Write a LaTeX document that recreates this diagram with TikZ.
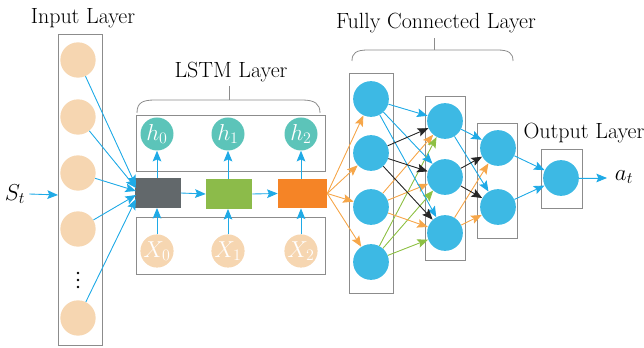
\documentclass[tikz,border=0pt]{standalone}
\usetikzlibrary{arrows.meta}
\definecolor{tan}{HTML}{F6D6B1}
\definecolor{teal}{HTML}{5CC4B9}
\definecolor{cgray}{HTML}{62686B}
\definecolor{cgreen}{HTML}{8CBB4A}
\definecolor{corange}{HTML}{F58426}
\definecolor{cblue}{HTML}{3DB9E4}
\definecolor{lblue}{HTML}{1FAAE6}
\definecolor{lorange}{HTML}{F6A649}
\definecolor{lgreen}{HTML}{8DC043}
\definecolor{boxc}{HTML}{8C8C8C}
\tikzset{
  title/.style={font=\fontsize{16.5}{18}\selectfont, inner sep=0pt},
  grpbox/.style={draw=boxc, line width=0.6pt},
  incirc/.style={circle, fill=tan, minimum size=26.5pt, inner sep=0pt},
  hcirc/.style={circle, fill=teal, minimum size=24.75pt, inner sep=0pt, text=white, font=\fontsize{17}{18}\selectfont},
  xcirc/.style={circle, fill=tan, minimum size=24.75pt, inner sep=0pt, text=white, font=\fontsize{17}{18}\selectfont},
  fccirc/.style={circle, fill=cblue, minimum size=26.8pt, inner sep=0pt},
  cell/.style={rectangle, minimum height=22pt, inner sep=0pt},
  conn/.style={line width=0.65pt, -{Stealth[length=8pt,width=6.5pt,inset=1.5pt]}},
  cb/.style={conn, draw=lblue, fill=lblue},
  co/.style={conn, draw=lorange, fill=lorange},
  cg/.style={conn, draw=lgreen, fill=lgreen},
  ck/.style={conn, draw=black!85, fill=black!85},
}
\begin{document}
\begin{tikzpicture}[x=0.75pt, y=-0.75pt]
\useasboundingbox (0,0) rectangle (644,348);

% ---------- titles ----------
\node[title] (tin) at (83,18) {Input Layer};
\node[title] (tlstm) at (231,72) {LSTM Layer};
\node[title] (tfc) at (436,23) {Fully Connected Layer};
\node[title] (tout) at (584,133) {Output Layer};

% ---------- brackets ----------
\draw[boxc, line width=0.6pt] (137,113) .. controls (137,103) and (142,100) .. (155,100) -- (302,100) .. controls (315,100) and (320,104) .. (320,113);
\draw[boxc, line width=0.6pt] (229,100) -- (229,86);
\draw[boxc, line width=0.6pt] (352,61) .. controls (352,53) and (356,50) .. (368,50) -- (497,50) .. controls (509,50) and (513,53) .. (513,61);
\draw[boxc, line width=0.6pt] (434,50) -- (434,38);

% ---------- group boxes ----------
\draw[grpbox] (58,34) rectangle (102,345);
\draw[grpbox] (136,115) rectangle (325,171);
\draw[grpbox] (136,217) rectangle (325,274);
\draw[grpbox] (349,73) rectangle (393,293);
\draw[grpbox] (425,96) rectangle (465,260);
\draw[grpbox] (477,123) rectangle (517,238);
\draw[grpbox] (541,149) rectangle (582,208);

% ---------- input layer ----------
\node[incirc] (i1) at (78,60) {};
\node[incirc] (i2) at (78,117) {};
\node[incirc] (i3) at (78,173) {};
\node[incirc] (i4) at (78,229) {};
\node[incirc] (i5) at (78,318) {};
\foreach \yy in {273,280,287} \fill (78,\yy) circle (1.4);

\node[font=\fontsize{18}{19}\selectfont, inner sep=0pt] (st) at (15,194) {$S_t$};
\coordinate (stin) at (58,195);
\draw[cb] (st.east) ++(4,0) coordinate (stout) (stout) -- (stin);

% ---------- LSTM cells ----------
\node[cell, fill=cgray, minimum width=34pt] (c0) at (158,193) {};
\node[cell, fill=cgreen, minimum width=34.5pt] (c1) at (229,194) {};
\node[cell, fill=corange, minimum width=36.75pt] (c2) at (302.5,193.5) {};

\node[hcirc] (h0) at (157,134) {$h_0$};
\node[hcirc] (h1) at (228,134) {$h_1$};
\node[hcirc] (h2) at (301,134) {$h_2$};
\node[xcirc] (x0) at (157,251) {$X_0$};
\node[xcirc] (x1) at (228,251) {$X_1$};
\node[xcirc] (x2) at (301,251) {$X_2$};

\draw[cb] (c0.east) -- (c1.west);
\draw[cb] (c1.east) -- (c2.west);
\draw[cb] (c0.north -| h0) -- (h0);
\draw[cb] (c1.north -| h1) -- (h1);
\draw[cb] (c2.north -| h2) -- (h2);
\draw[cb] (x0) -- (c0.south -| x0);
\draw[cb] (x1) -- (c1.south -| x1);
\draw[cb] (x2) -- (c2.south -| x2);

% input -> first cell
\coordinate (g1) at (136,186);
\coordinate (g2) at (136,188);
\coordinate (g3) at (136,191);
\coordinate (g4) at (136,195);
\coordinate (g5) at (136,199);
\draw[cb] (i1) -- (g1);
\draw[cb] (i2) -- (g2);
\draw[cb] (i3) -- (g3);
\draw[cb] (i4) -- (g4);
\draw[cb] (i5) -- (g5);

% ---------- fully connected ----------
\node[fccirc] (a1) at (371,99) {};
\node[fccirc] (a2) at (371,153) {};
\node[fccirc] (a3) at (371,207) {};
\node[fccirc] (a4) at (371,262) {};
\node[fccirc] (b1) at (445,121) {};
\node[fccirc] (b2) at (445,177) {};
\node[fccirc] (b3) at (445,233) {};
\node[fccirc] (d1) at (498,148) {};
\node[fccirc] (d2) at (498,207) {};
\node[fccirc] (o1) at (561,178) {};

\foreach \t in {a1,a2,a3,a4} \draw[co] (c2.east) -- (\t);

\foreach \t in {b1,b2,b3} {
  \draw[cb] (a1) -- (\t);
  \draw[co] (a3) -- (\t);
  \draw[cg] (a4) -- (\t);
}
\foreach \t in {b1,b2,b3} \draw[ck] (a2) -- (\t);

\foreach \t in {d1,d2} {
  \draw[cb] (b1) -- (\t);
  \draw[co] (b3) -- (\t);
}
\foreach \t in {d1,d2} \draw[ck] (b2) -- (\t);

\draw[cb] (d1) -- (o1);
\draw[cb] (d2) -- (o1);

\node[font=\fontsize{18}{19}\selectfont, inner sep=0pt] (at) at (624,177) {$a_t$};
\coordinate (atin) at (607,178);
\draw[cb] (o1) -- (atin);
\end{tikzpicture}
\end{document}
